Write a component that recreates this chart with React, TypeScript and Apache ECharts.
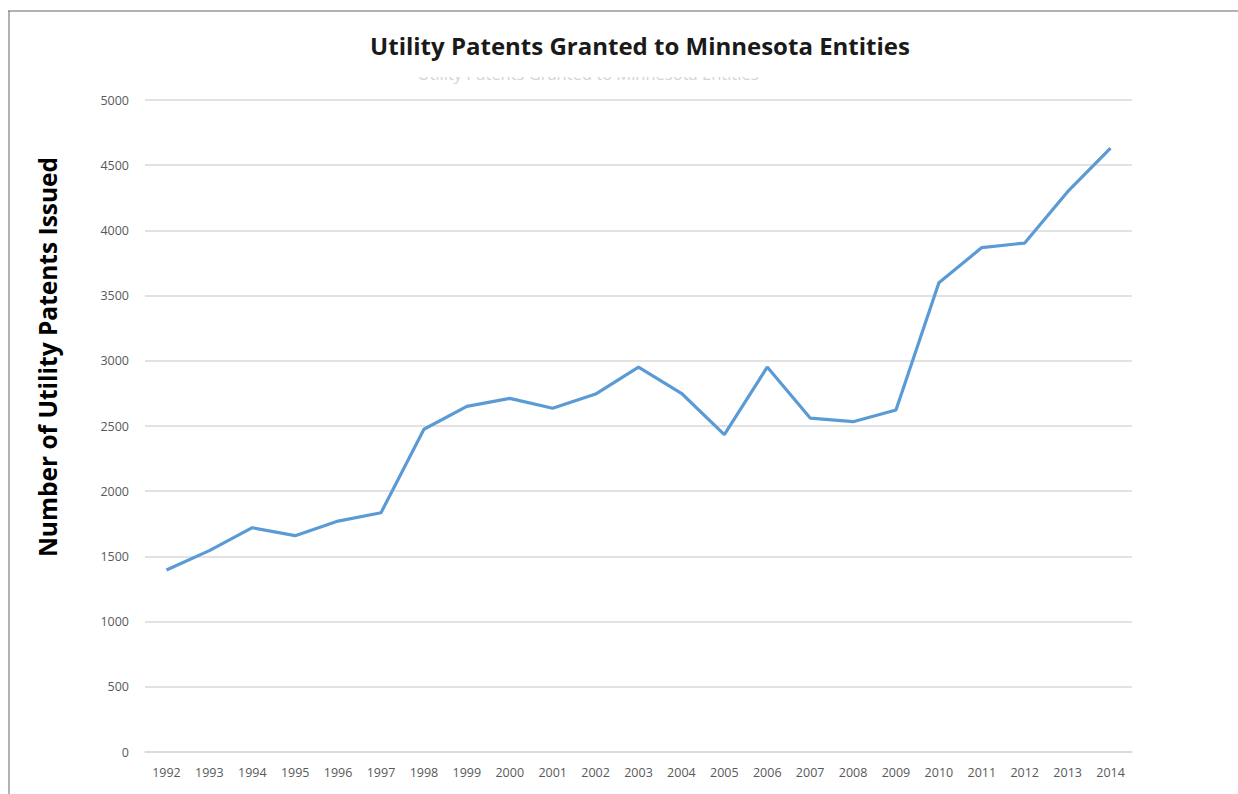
import React, { useEffect, useRef } from "react";
import * as echarts from "echarts";

const years = ["1992","1993","1994","1995","1996","1997","1998","1999","2000","2001","2002","2003","2004","2005","2006","2007","2008","2009","2010","2011","2012","2013","2014"];
const patents = [1396, 1544, 1720, 1659, 1771, 1835, 2475, 2651, 2712, 2636, 2745, 2952, 2751, 2434, 2952, 2561, 2533, 2623, 3599, 3868, 3903, 4297, 4630];
const titleText = "Utility Patents Granted to Minnesota Entities";
const yAxisTitle = "Number of Utility Patents Issued";

export default function App() {
  const ref = useRef<HTMLDivElement>(null);
  useEffect(() => {
    if (!ref.current) return;
    const chart = echarts.init(ref.current, null, { renderer: "svg" });
    chart.setOption({
      animation: false,
      backgroundColor: "#ffffff",
      grid: { left: 145, right: 106, top: 100, bottom: 42, containLabel: false },
      xAxis: {
        type: "category",
        data: years,
        boundaryGap: true,
        axisLine: { show: true, lineStyle: { color: "#d9d9d9", width: 1.5 } },
        axisTick: { show: false },
        axisLabel: { color: "#595959", fontSize: 12.5, fontFamily: "Open Sans", margin: 14 },
      },
      yAxis: {
        type: "value",
        min: 0,
        max: 5000,
        interval: 500,
        axisLine: { show: false },
        axisTick: { show: false },
        axisLabel: {
          color: "#595959",
          fontSize: 12.5,
          fontFamily: "Open Sans",
          margin: 16,
          formatter: (v: number) => String(v),
        },
        splitLine: { lineStyle: { color: "#d9d9d9", width: 1.5 } },
      },
      series: [
        {
          type: "line",
          data: patents,
          symbol: "none",
          lineStyle: { color: "#5b9bd5", width: 3.2 },
        },
      ],
      graphic: [
        { type: "line", shape: { x1: 8, y1: 11, x2: 1238, y2: 11 }, style: { stroke: "#666666", lineWidth: 1 } },
        { type: "line", shape: { x1: 9, y1: 11, x2: 9, y2: 794 }, style: { stroke: "#666666", lineWidth: 1 } },
        {
          type: "text",
          x: 588,
          y: 73,
          style: { text: titleText, fontSize: 16.5, fill: "#d4d4d4", fontFamily: "Open Sans", textAlign: "center", textVerticalAlign: "middle" },
        },
        { type: "rect", shape: { x: 380, y: 60, width: 420, height: 17 }, style: { fill: "#ffffff" } },
        {
          type: "text",
          x: 640,
          y: 45,
          style: { text: titleText, fontSize: 24, fill: "#1a1a1a", fontFamily: "Open Sans", fontWeight: "bold", textAlign: "center", textVerticalAlign: "middle" },
        },
        {
          type: "text",
          x: 47,
          y: 357,
          rotation: Math.PI / 2,
          style: { text: yAxisTitle, fontSize: 24.5, fill: "#000000", fontFamily: "Open Sans", fontWeight: "bold", textAlign: "center", textVerticalAlign: "middle" },
        },
      ],
    });
    return () => chart.dispose();
  }, []);
  return <div ref={ref} style={{ position: "absolute", left: 0, top: 0, width: 1238, height: 794 }} />;
}
